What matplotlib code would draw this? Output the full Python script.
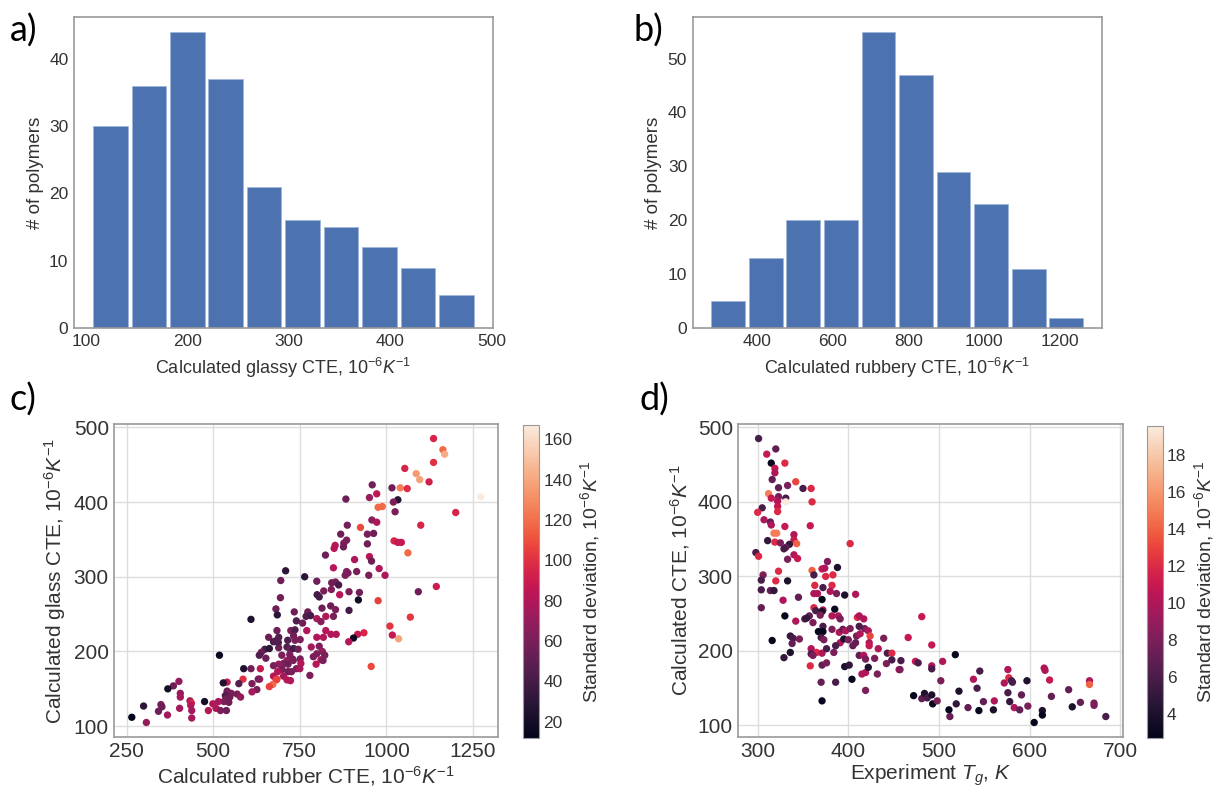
import numpy as np
import matplotlib
matplotlib.use('Agg')
import matplotlib.pyplot as plt
import seaborn as sns

# histogram data (counts per bin, data range)
glassy_counts = [30, 36, 44, 37, 21, 16, 15, 12, 9, 5]
glassy_range = (105, 484)
rubbery_counts = [5, 13, 20, 20, 55, 47, 29, 23, 11, 2]
rubbery_range = (275, 1266)

# panel c: rubber CTE, glass CTE, std deviation
c_rubber = [1136, 1163, 1168, 1136, 1053, 1086, 1096, 1123, 959, 1016, 1040, 1060, 883, 951, 972, 1033,
            1020, 1272, 976, 988, 1025, 1200, 958, 972, 887, 925, 1099, 945, 963, 868, 885, 877,
            852, 849, 1022, 1033, 1043, 945, 1062, 824, 951, 957, 908, 979, 847, 914, 885, 881,
            949, 996, 709, 695, 764, 799, 853, 862, 922, 892, 1092, 1144, 865, 819, 800, 806,
            841, 694, 919, 976, 839, 814, 853, 892, 681, 685, 734, 609, 773, 768, 781, 799,
            811, 740, 1069, 825, 847, 1010, 1035, 1017, 935, 917, 905, 891, 956, 825, 770, 855,
            840, 799, 818, 684, 660, 689, 724, 736, 732, 715, 736, 751, 674, 649, 662, 639,
            633, 652, 689, 713, 722, 732, 745, 783, 806, 815, 799, 822, 811, 789, 698, 751,
            729, 713, 703, 689, 716, 674, 753, 797, 740, 750, 779, 636, 609, 588, 699, 686,
            716, 726, 674, 703, 682, 672, 662, 684, 713, 723, 634, 612, 586, 574, 540, 529,
            518, 626, 612, 540, 552, 535, 548, 569, 579, 537, 531, 545, 515, 499, 508, 521,
            538, 486, 475, 401, 385, 369, 405, 405, 433, 437, 435, 438, 438, 403, 349, 352,
            342, 368, 299, 265, 307, 758, 721, 731, 817, 679, 688, 630, 876, 889, 842]
c_glass = [485, 470, 464, 453, 445, 438, 430, 427, 423, 419, 419, 418, 404, 406, 411, 403,
           400, 407, 393, 394, 387, 386, 376, 373, 369, 366, 369, 357, 358, 357, 349, 345,
           342, 338, 348, 346, 346, 344, 332, 329, 327, 321, 323, 311, 312, 307, 307, 302,
           302, 302, 308, 295, 300, 294, 293, 289, 279, 280, 280, 287, 276, 281, 276, 273,
           283, 272, 269, 268, 261, 258, 256, 255, 257, 249, 253, 243, 253, 247, 248, 244,
           240, 241, 246, 247, 247, 234, 217, 222, 225, 223, 218, 213, 180, 228, 228, 223,
           223, 219, 219, 228, 219, 219, 228, 229, 221, 215, 215, 216, 213, 203, 204, 199,
           195, 191, 205, 206, 203, 204, 203, 206, 207, 200, 197, 195, 189, 193, 195, 190,
           190, 188, 184, 183, 183, 181, 184, 183, 177, 177, 168, 177, 177, 177, 176, 173,
           173, 173, 167, 167, 162, 156, 153, 163, 162, 161, 163, 157, 163, 157, 159, 158,
           195, 149, 146, 147, 144, 141, 139, 143, 139, 136, 133, 132, 133, 130, 124, 121,
           121, 121, 133, 160, 154, 150, 144, 139, 134, 131, 128, 121, 111, 124, 129, 126,
           120, 115, 127, 112, 105, 238, 196, 188, 188, 214, 212, 163, 340, 305, 292]
c_std = [95, 118, 142, 100, 95, 135, 138, 92, 58, 55, 125, 98, 55, 72, 85, 28,
         60, 167, 118, 118, 60, 95, 65, 78, 58, 108, 95, 60, 55, 55, 60, 60,
         80, 82, 95, 88, 88, 55, 118, 55, 82, 55, 78, 78, 82, 60, 65, 60,
         60, 78, 30, 55, 30, 55, 60, 42, 55, 60, 55, 90, 82, 60, 40, 40,
         60, 55, 20, 105, 55, 55, 60, 40, 55, 30, 55, 25, 55, 45, 40, 80,
         65, 45, 102, 80, 60, 102, 138, 88, 95, 88, 18, 82, 108, 80, 80, 80,
         80, 80, 80, 55, 55, 45, 60, 45, 55, 45, 60, 60, 40, 40, 30, 55,
         45, 55, 55, 45, 55, 40, 55, 75, 60, 70, 60, 60, 75, 60, 60, 60,
         55, 70, 60, 70, 55, 60, 82, 82, 60, 75, 60, 88, 55, 25, 60, 80,
         55, 60, 80, 75, 108, 118, 105, 105, 80, 80, 75, 60, 100, 45, 88, 25,
         15, 60, 75, 55, 60, 45, 55, 60, 70, 55, 60, 55, 75, 80, 80, 60,
         55, 80, 20, 70, 55, 20, 70, 75, 75, 95, 80, 75, 75, 75, 60, 55,
         55, 75, 30, 12, 70, 55, 60, 60, 60, 45, 45, 60, 55, 60, 55]

# panel d: experimental Tg, calculated CTE, std deviation
d_tg = [301, 310, 320, 315, 330, 319, 319, 316, 342, 323, 333, 350, 359, 312, 315, 323,
        331, 331, 360, 322, 305, 322, 322, 300, 307, 314, 315, 330, 358, 318, 321, 340,
        311, 319, 325, 340, 343, 335, 331, 329, 402, 298, 301, 333, 340, 344, 360, 323,
        306, 304, 320, 333, 362, 371, 374, 377, 388, 375, 383, 304, 314, 318, 328, 345,
        363, 362, 366, 372, 382, 380, 387, 396, 371, 408, 304, 330, 362, 364, 357, 352,
        354, 342, 361, 372, 371, 369, 385, 382, 389, 391, 410, 412, 417, 372, 367, 372,
        370, 373, 382, 390, 394, 397, 402, 409, 413, 418, 422, 424, 412, 391, 395, 400,
        423, 423, 336, 339, 346, 338, 316, 336, 329, 359, 365, 359, 361, 371, 376, 384,
        386, 405, 408, 358, 371, 376, 396, 401, 370, 386, 404, 419, 371, 412, 417, 419,
        415, 419, 422, 432, 429, 433, 439, 443, 442, 448, 448, 456, 458, 457, 466, 474,
        477, 481, 492, 492, 492, 504, 502, 518, 472, 481, 484, 487, 492, 493, 498, 511,
        512, 519, 522, 532, 538, 542, 544, 545, 549, 560, 561, 572, 576, 577, 580, 581,
        576, 578, 583, 589, 591, 597, 598, 605, 614, 614, 616, 617, 622, 624, 643, 647,
        656, 666, 666, 671, 671, 684]
d_cte = [485, 464, 471, 452, 452, 445, 439, 430, 427, 419, 422, 418, 418, 411, 405, 407,
         405, 400, 400, 401, 392, 394, 387, 386, 376, 373, 369, 367, 368, 358, 358, 356,
         348, 346, 345, 349, 344, 343, 339, 337, 344, 332, 327, 323, 329, 324, 308, 307,
         302, 295, 294, 294, 302, 310, 311, 320, 312, 300, 302, 282, 281, 281, 268, 272,
         288, 277, 277, 285, 288, 280, 277, 275, 269, 276, 258, 247, 258, 254, 247, 243,
         244, 240, 238, 255, 253, 248, 256, 247, 247, 243, 245, 247, 243, 233, 226, 226,
         218, 215, 229, 225, 229, 227, 230, 220, 223, 230, 227, 220, 233, 211, 216, 215,
         211, 207, 220, 217, 216, 210, 214, 198, 191, 203, 198, 196, 194, 197, 203, 198,
         207, 207, 211, 180, 181, 184, 179, 181, 158, 158, 162, 147, 133, 194, 194, 189,
         169, 171, 178, 169, 190, 203, 217, 197, 183, 197, 188, 175, 187, 175, 218, 186,
         184, 246, 208, 180, 176, 186, 160, 195, 140, 136, 143, 137, 141, 129, 133, 121,
         112, 129, 146, 124, 162, 150, 120, 173, 132, 121, 133, 157, 175, 164, 160, 158,
         144, 132, 124, 121, 141, 160, 126, 104, 120, 114, 177, 174, 161, 139, 148, 125,
         131, 160, 155, 130, 127, 112]
d_std = [6, 11, 7, 3, 12, 11, 10, 7, 13, 7, 8, 6, 12, 15, 11, 8,
         6, 19.6, 12, 10, 6, 11, 12, 12, 10, 7, 10, 11, 11, 15, 15, 10,
         5, 12, 8, 11, 14, 5, 7, 6, 12, 6, 12, 8, 10, 11, 14, 12,
         8, 6, 12, 4, 6, 11, 10, 8, 4, 12, 12, 6, 7, 5, 10, 7,
         12, 10, 10, 6, 12, 10, 8, 4, 3, 10, 7, 3, 12, 6, 7, 6,
         5, 10, 8, 10, 4, 8, 3, 10, 10, 8, 12, 10, 10, 6, 3, 3,
         6, 8, 8, 10, 7, 10, 8, 8, 10, 8, 10, 13, 6, 10, 4, 8,
         10, 11, 5, 6, 8, 7, 3, 4, 5, 10, 12, 6, 8, 10, 6, 8,
         6, 7, 7, 12, 7, 8, 4, 5, 7, 6, 3, 8, 3, 7, 10, 8,
         10, 10, 4, 8, 8, 10, 8, 6, 8, 12, 6, 10, 6, 8, 11, 11,
         6, 11, 11, 10, 6, 10, 8, 3, 3, 7, 4, 6, 4, 3, 8, 3,
         7, 5, 4, 7, 10, 6, 3, 6, 7, 4, 10, 10, 10, 12, 6, 6,
         6, 5, 10, 7, 7, 4, 8, 2.7, 4, 3, 10, 10, 11, 7, 7, 4,
         7, 10, 14, 8, 8, 6]

plt.rcParams['font.family'] = ['Liberation Sans', 'DejaVu Sans']
plt.rcParams['mathtext.fontset'] = 'custom'
plt.rcParams['mathtext.rm'] = 'Liberation Sans'
plt.rcParams['mathtext.it'] = 'Liberation Sans:italic'
plt.rcParams['text.color'] = '#333333'
plt.rcParams['axes.labelcolor'] = '#333333'
plt.rcParams['xtick.color'] = '#333333'
plt.rcParams['ytick.color'] = '#333333'

cmap = sns.color_palette('rocket', as_cmap=True)
blue = '#4C72B0'
unit = r'$10^{-6}K^{-1}$'

fig = plt.figure(figsize=(12.14, 7.89), dpi=100)
ax_a = fig.add_axes([0.0610, 0.5839, 0.3449, 0.3949])
ax_b = fig.add_axes([0.5706, 0.5839, 0.3369, 0.3949])
ax_c = fig.add_axes([0.0942, 0.0663, 0.3161, 0.3959])
cax_c = fig.add_axes([0.4311, 0.0650, 0.0132, 0.3963])
ax_d = fig.add_axes([0.6082, 0.0663, 0.3171, 0.3959])
cax_d = fig.add_axes([0.9446, 0.0650, 0.0132, 0.3951])


def style(ax, size, grid):
    for s in ax.spines.values():
        s.set_color('#999999')
        s.set_linewidth(1.2)
    ax.tick_params(length=0, labelsize=size, pad=4)
    if grid:
        ax.grid(True, color='#dddddd', linewidth=1)
        ax.set_axisbelow(True)


# histograms
for ax, counts, rng, xlabel in [(ax_a, glassy_counts, glassy_range, 'Calculated glassy CTE, ' + unit),
                                (ax_b, rubbery_counts, rubbery_range, 'Calculated rubbery CTE, ' + unit)]:
    edges = np.linspace(rng[0], rng[1], len(counts) + 1)
    ax.hist(edges[:-1], bins=edges, weights=counts, rwidth=0.9, color=blue,
            edgecolor='#9fb4dc', linewidth=0.5)
    ax.set_xlabel(xlabel, fontsize=13, labelpad=5)
    ax.set_ylabel('# of polymers', fontsize=13.5, labelpad=4)
    style(ax, 12.5, False)

ax_a.set_xticks([100, 200, 300, 400, 500])
ax_b.set_xticks([400, 600, 800, 1000, 1200])

# scatter c
sc = ax_c.scatter(c_rubber, c_glass, c=c_std, cmap=cmap, s=28, linewidths=0)
ax_c.set_xlabel('Calculated rubber CTE, ' + unit, fontsize=15, labelpad=2)
ax_c.set_ylabel('Calculated glass CTE, ' + unit, fontsize=15, labelpad=4)
ax_c.set_xticks([250, 500, 750, 1000, 1250])
ax_c.set_yticks([100, 200, 300, 400, 500])
style(ax_c, 15, True)
cb = fig.colorbar(sc, cax=cax_c)
cb.set_ticks([20, 40, 60, 80, 100, 120, 140, 160])
cb.set_label('Standard deviation, ' + unit, fontsize=14, labelpad=4)
cb.ax.tick_params(length=0, labelsize=12.5, pad=3)
cb.outline.set_edgecolor('#999999')

# scatter d
sd = ax_d.scatter(d_tg, d_cte, c=d_std, cmap=cmap, s=28, linewidths=0)
ax_d.set_xlabel('Experiment $T_g$, $K$', fontsize=15, labelpad=1)
ax_d.set_ylabel('Calculated CTE, ' + unit, fontsize=15, labelpad=4)
ax_d.set_xticks([300, 400, 500, 600, 700])
ax_d.set_yticks([100, 200, 300, 400, 500])
style(ax_d, 15, True)
cb2 = fig.colorbar(sd, cax=cax_d)
cb2.set_ticks([4, 6, 8, 10, 12, 14, 16, 18])
cb2.set_label('Standard deviation, ' + unit, fontsize=14, labelpad=4)
cb2.ax.tick_params(length=0, labelsize=12.5, pad=3)
cb2.outline.set_edgecolor('#999999')

# panel letters
for x, y, lab in [(0.008, 0.961, 'a)'), (0.522, 0.961, 'b)'), (0.008, 0.494, 'c)'), (0.527, 0.494, 'd)')]:
    fig.text(x, y, lab, fontsize=26, family='Lato', color='black', va='center', ha='left')

fig.savefig('out.png', dpi=100)
